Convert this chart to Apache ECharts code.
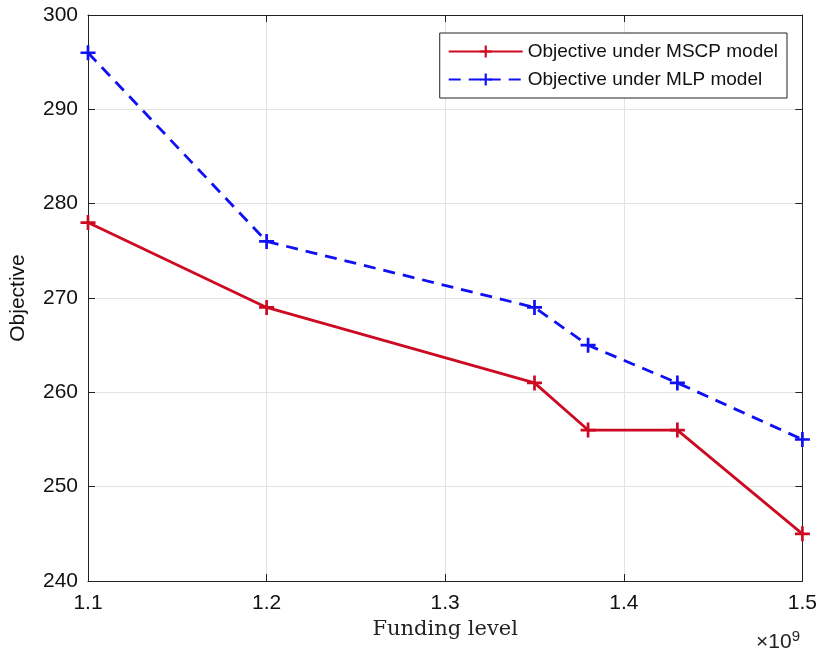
<!DOCTYPE html>
<html lang="en">
<head>
    <meta charset="UTF-8"/>
    <title>objective</title>
    <script src="https://cdn.jsdelivr.net/npm/echarts@6/dist/echarts.min.js"></script>
</head>
<body style="margin:0">
<div id="main" style="width: 820px;height:656px;"></div>
<script type="text/javascript">
    // funding level (x 1e9) and objective values
    var funding = [1.1, 1.2, 1.35, 1.38, 1.43, 1.5];
    var mscp = [278, 269, 261, 256, 256, 245];
    var mlp = [296, 276, 269, 265, 261, 255];
    var xTicks = [1.1, 1.2, 1.3, 1.4, 1.5];
    var yTicks = [240, 250, 260, 270, 280, 290, 300];

    var plus = 'path://M-1.8,-10H1.8V-1.8H10V1.8H1.8V10H-1.8V1.8H-10V-1.8H-1.8Z';
    var red = '#cc0a22';
    var blue = '#1010f5';

    function pairs(xs, ys) {
        return xs.map(function (x, i) { return [x, ys[i]]; });
    }

    var myChart = echarts.init(document.getElementById('main'));

    var option = {
        animation: false,
        grid: {left: 87, right: 17, top: 15, bottom: 75},
        legend: {
            orient: 'vertical',
            right: 33,
            top: 33,
            padding: [9, 9, 9, 8],
            itemGap: 9,
            itemWidth: 74,
            itemHeight: 15,
            borderColor: '#222',
            borderWidth: 1,
            backgroundColor: '#fff',
            textStyle: {fontFamily: 'Liberation Sans', fontSize: 19, color: '#111'},
            data: ['Objective under MSCP model', 'Objective under MLP model']
        },
        xAxis: [{
            type: 'value',
            min: 1.1, max: 1.5, interval: 0.1,
            name: 'Funding level',
            nameLocation: 'middle',
            nameGap: 38,
            nameTextStyle: {fontFamily: 'DejaVu Serif', fontSize: 21, color: '#222'},
            axisLine: {lineStyle: {color: '#222', width: 1}},
            axisTick: {inside: true, length: 7, lineStyle: {color: '#222'}},
            axisLabel: {fontFamily: 'Liberation Sans', fontSize: 21, color: '#111', margin: 12,
                formatter: function (v) { return v.toFixed(1); }},
            splitLine: {show: true, lineStyle: {color: '#e3e3e3'}}
        }, {
            type: 'value', position: 'top',
            min: 1.1, max: 1.5, interval: 0.1,
            axisLine: {lineStyle: {color: '#222'}},
            axisTick: {inside: true, length: 7, lineStyle: {color: '#222'}},
            axisLabel: {show: false},
            splitLine: {show: false}
        }],
        yAxis: [{
            type: 'value',
            min: 240, max: 300, interval: 10,
            name: 'Objective',
            nameLocation: 'middle',
            nameGap: 59,
            nameTextStyle: {fontFamily: 'Liberation Sans', fontSize: 21, color: '#111'},
            axisLine: {show: true, lineStyle: {color: '#222'}},
            axisTick: {show: true, inside: true, length: 7, lineStyle: {color: '#222'}},
            axisLabel: {fontFamily: 'Liberation Sans', fontSize: 21, color: '#111', margin: 10},
            splitLine: {show: true, lineStyle: {color: '#e3e3e3'}}
        }, {
            type: 'value', position: 'right',
            min: 240, max: 300, interval: 10,
            axisLine: {show: true, lineStyle: {color: '#222'}},
            axisTick: {show: true, inside: true, length: 7, lineStyle: {color: '#222'}},
            axisLabel: {show: false},
            splitLine: {show: false}
        }],
        graphic: [{
            type: 'text',
            right: 20,
            bottom: 3,
            style: {
                text: '\u00d710{s|9}',
                fontFamily: 'Liberation Sans',
                fontSize: 21,
                fill: '#222',
                rich: {s: {fontSize: 15, verticalAlign: 'top', padding: [0, 0, 12, 0], fill: '#222'}}
            }
        }],
        series: [{
            name: 'Objective under MSCP model',
            type: 'line',
            data: pairs(funding, mscp),
            symbol: plus,
            symbolSize: 15,
            itemStyle: {color: red},
            lineStyle: {color: red, width: 2.8},
            z: 3
        }, {
            name: 'Objective under MLP model',
            type: 'line',
            data: pairs(funding, mlp),
            symbol: plus,
            symbolSize: 15,
            itemStyle: {color: blue},
            lineStyle: {color: blue, width: 2.8, type: [12, 8]},
            z: 3
        }]
    };

    myChart.setOption(option);
</script>
</body>
</html>
